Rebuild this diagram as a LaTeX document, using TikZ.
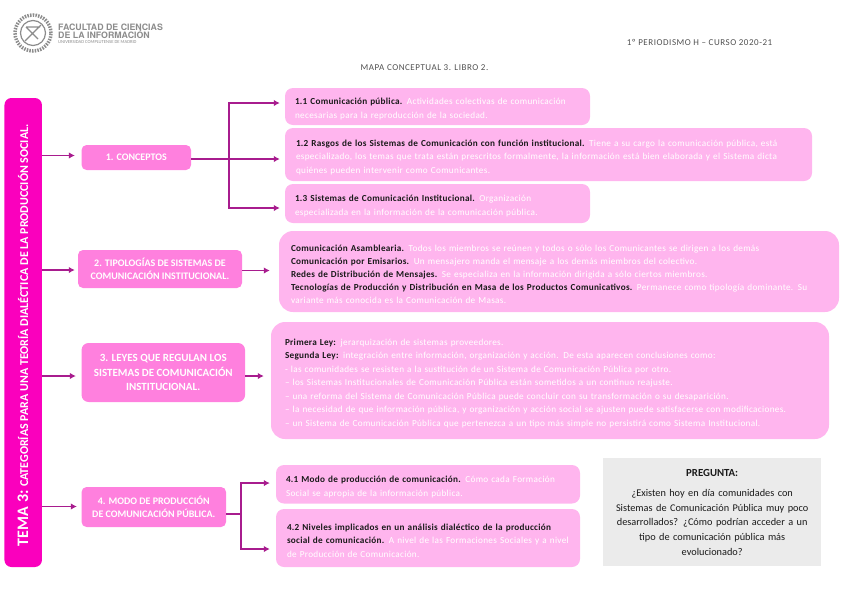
\documentclass[tikz,border=0pt]{standalone}
\usepackage{fontspec}
\setmainfont{Carlito}
\newfontfamily\ws[LetterSpace=3.5]{Carlito}
\newfontfamily\bs[LetterSpace=3]{Carlito}
\newfontfamily\hs[LetterSpace=6]{Carlito}
\newfontfamily\heros{TeX Gyre Heros}
\usetikzlibrary{arrows.meta,calc}
\definecolor{barpink}{HTML}{FA00BD}
\definecolor{midpink}{HTML}{FF80DE}
\definecolor{lightpink}{HTML}{FFB5EE}
\definecolor{arrowc}{HTML}{A81C8E}
\definecolor{greyq}{HTML}{EBEBEB}
\definecolor{logogrey}{HTML}{8C8C8C}
\definecolor{ink}{HTML}{1A1A1A}
\definecolor{headc}{HTML}{505050}
\newcommand\wt[1]{{\ws\textcolor{white}{#1}}}
\newcommand\bk[1]{{\bs\bfseries #1}}
\newcommand\lift{\rule{0pt}{11.5pt}}
\tikzset{
  midbox/.style={fill=midpink,rounded corners=5pt,inner sep=0pt,align=center,text=white,font=\fontsize{10}{13}\selectfont\bfseries},
  lightbox/.style={fill=lightpink,rounded corners=8pt,inner xsep=0pt,inner ysep=0pt,align=left,text=ink,font=\fontsize{9.2}{13.5}\selectfont},
  bigbox/.style={lightbox,rounded corners=14pt},
  conn/.style={draw=arrowc,line width=1.8pt},
  arr/.style={conn,-{Latex[length=6pt,width=6.5pt]}},
}
\begin{document}
\begin{tikzpicture}[x=1pt,y=-1pt]
\useasboundingbox (0,0) rectangle (848,600);
% logo
\node[circle,draw=logogrey,line width=1.2pt,minimum size=25pt,inner sep=0pt] (logo) at (33,33) {};
\node[circle,draw=logogrey,line width=3.5pt,dash pattern=on 1.5pt off 1.2pt,minimum size=36pt,inner sep=0pt] (wreath) at (33,33) {};
\draw[logogrey,line width=1.4pt] (25,41) -- (41,25) (26,27) -- (40,27) (26,27) -- (38,39);
\node[anchor=west,inner sep=0pt,text=logogrey,font=\heros\bfseries\fontsize{8.8}{8.4}\selectfont,align=left] (fac) at (58,31.2) {FACULTAD DE CIENCIAS\\DE LA INFORMACIÓN};
\node[anchor=west,inner sep=0pt,text=logogrey,font=\fontsize{4.6}{5}\selectfont] (ucm) at (58,42.5) {UNIVERSIDAD COMPLUTENSE DE MADRID};
% header
\node[inner sep=0pt,text=headc,font=\hs\fontsize{9}{10}\selectfont] (curso) at (699.5,42.5) {1º PERIODISMO H – CURSO 2020-21};
\node[inner sep=0pt,text=headc,font=\hs\fontsize{9}{10}\selectfont] (mapa) at (424.5,67.5) {MAPA CONCEPTUAL 3. LIBRO 2.};
% left bar
\node[fill=barpink,rounded corners=7pt,minimum width=37.5pt,minimum height=469pt,inner sep=0pt] (tema) at (23.2,332.5) {};
\node[rotate=90,inner sep=0pt,text=white,font=\fontsize{12}{13}\selectfont\bfseries] (tematxt) at (23,335) {{\fontsize{16}{15}\selectfont TEMA 3:} CATEGORÍAS PARA UNA TEORÍA DIALÉCTICA DE LA PRODUCCIÓN SOCIAL.};
% middle boxes
\node[midbox,minimum width=109.5pt,minimum height=25pt] (n1) at (136.3,157.5) {1. CONCEPTOS};
\node[midbox,minimum width=164pt,minimum height=38pt] (n2) at (160,269) {2. TIPOLOGÍAS DE SISTEMAS DE\\COMUNICACIÓN INSTITUCIONAL.};
\node[midbox,minimum width=163.5pt,minimum height=59pt,rounded corners=7pt,font=\fontsize{11}{14.5}\selectfont\bfseries] (n3) at (163.3,372.5) {3. LEYES QUE REGULAN LOS\\SISTEMAS DE COMUNICACIÓN\\INSTITUCIONAL.};
\node[midbox,minimum width=144.5pt,minimum height=40pt] (n4) at (153.8,507) {4. MODO DE PRODUCCIÓN\\DE COMUNICACIÓN PÚBLICA.};
% text boxes
\node[lightbox,minimum height=37pt,text width=285pt,inner xsep=10pt] (b11) at (437.5,106.5) {\lift\bk{1.1 Comunicación pública.} \wt{Actividades colectivas de comunicación}\\\wt{necesarias para la reproducción de la sociedad.}};
\node[lightbox,minimum height=53pt,text width=505pt,inner xsep=11pt] (b12) at (548.5,154.5) {\lift\bk{1.2 Rasgos de los Sistemas de Comunicación con función institucional.} \wt{Tiene a su cargo la comunicación pública, está}\\\wt{especializado, los temas que trata están prescritos formalmente, la información está bien elaborada y el Sistema dicta}\\\wt{quiénes pueden intervenir como Comunicantes.}};
\node[lightbox,minimum height=39pt,text width=285pt,inner xsep=10pt] (b13) at (437.5,203.5) {\lift\bk{1.3 Sistemas de Comunicación Institucional.} \wt{Organización}\\\wt{especializada en la información de la comunicación pública.}};
\node[bigbox,minimum height=81pt,text width=536pt,inner xsep=12pt,font=\fontsize{9.2}{13}\selectfont] (b2) at (559,271.5) {\lift\bk{Comunicación Asamblearia.} \wt{Todos los miembros se reúnen y todos o sólo los Comunicantes se dirigen a los demás}\\\bk{Comunicación por Emisarios.} \wt{Un mensajero manda el mensaje a los demás miembros del colectivo.}\\\bk{Redes de Distribución de Mensajes.} \wt{Se especializa en la información dirigida a sólo ciertos miembros.}\\\bk{Tecnologías de Producción y Distribución en Masa de los Productos Comunicativos.} \wt{Permanece como tipología dominante. Su}\\\wt{variante más conocida es la Comunicación de Masas.}};
\node[bigbox,minimum height=117pt,text width=530pt,inner xsep=14pt] (b3) at (550,380.5) {\lift\bk{Primera Ley:} \wt{jerarquización de sistemas proveedores.}\\\bk{Segunda Ley:} \wt{integración entre información, organización y acción. De esta aparecen conclusiones como:}\\\wt{- las comunidades se resisten a la sustitución de un Sistema de Comunicación Pública por otro.}\\\wt{– los Sistemas Institucionales de Comunicación Pública están sometidos a un continuo reajuste.}\\\wt{– una reforma del Sistema de Comunicación Pública puede concluir con su transformación o su desaparición.}\\\wt{– la necesidad de que información pública, y organización y acción social se ajusten puede satisfacerse con modificaciones.}\\\wt{– un Sistema de Comunicación Pública que pertenezca a un tipo más simple no persistirá como Sistema Institucional.}};
\node[lightbox,minimum height=38.5pt,text width=284pt,inner xsep=10pt] (b41) at (428,484.25) {\lift\bk{4.1 Modo de producción de comunicación.} \wt{Cómo cada Formación}\\\wt{Social se apropia de la información pública.}};
\node[lightbox,minimum height=58pt,text width=282pt,inner xsep=11pt] (b42) at (428,538) {\lift\bk{4.2 Niveles implicados en un análisis dialéctico de la producción}\\\bk{social de comunicación.} \wt{A nivel de las Formaciones Sociales y a nivel}\\\wt{de Producción de Comunicación.}};
% question
\node[fill=greyq,minimum width=218.5pt,minimum height=108pt,text width=205pt,inner xsep=6.75pt,inner ysep=0pt,align=center,text=ink,font=\fontsize{10.3}{14.6}\selectfont] (q) at (712.2,512) {{\fontsize{10.8}{14.6}\selectfont\textbf{PREGUNTA:}}\\[6pt]¿Existen hoy en día comunidades con\\Sistemas de Comunicación Pública muy poco\\desarrollados? ¿Cómo podrían acceder a un\\tipo de comunicación pública más\\evolucionado?};
% connectors
\coordinate (a1) at ($(n1.west)+(0,-2)$);
\coordinate (a2) at ($(n2.west)+(0,1)$);
\coordinate (a3) at ($(n3.west)+(0,3.5)$);
\coordinate (a4) at ($(n4.west)+(0,-0.5)$);
\draw[arr,shorten >=6.5pt] (tema.east |- a1) -- (a1);
\draw[arr,shorten >=3pt] (tema.east |- a2) -- (a2);
\draw[arr,shorten >=5.5pt] (tema.east |- a3) -- (a3);
\draw[arr,shorten >=4.5pt] (tema.east |- a4) -- (a4);
\coordinate (s1) at ($(n1.east)+(0,1.5)$);
\coordinate (j1) at ($(s1)+(38,0)$);
\draw[arr,shorten >=5pt] (s1) -- (s1 -| b12.west);
\draw[arr,shorten >=5pt] (j1) |- ($(b11.west)+(0,-3.5)$);
\draw[arr,shorten >=5pt] (j1) |- ($(b13.west)+(0,4.5)$);
\coordinate (s2) at ($(n2.east)+(0,1.5)$);
\draw[arr,shorten >=9pt] (s2) -- (s2 -| b2.west);
\coordinate (s3) at ($(n3.east)+(0,3.5)$);
\draw[arr,shorten >=7pt] (s3) -- (s3 -| b3.west);
\coordinate (s4) at ($(n4.east)+(0,7)$);
\coordinate (j4) at ($(s4)+(14.5,0)$);
\draw[conn] (s4) -- (j4);
\coordinate (t41) at ($(b41.west)+(0,-1.2)$);
\coordinate (t42) at ($(b42.west)+(0,11)$);
\draw[arr,shorten >=6pt] (j4) |- (t41);
\draw[arr,shorten >=6pt] (j4) |- (t42);
\end{tikzpicture}
\end{document}
